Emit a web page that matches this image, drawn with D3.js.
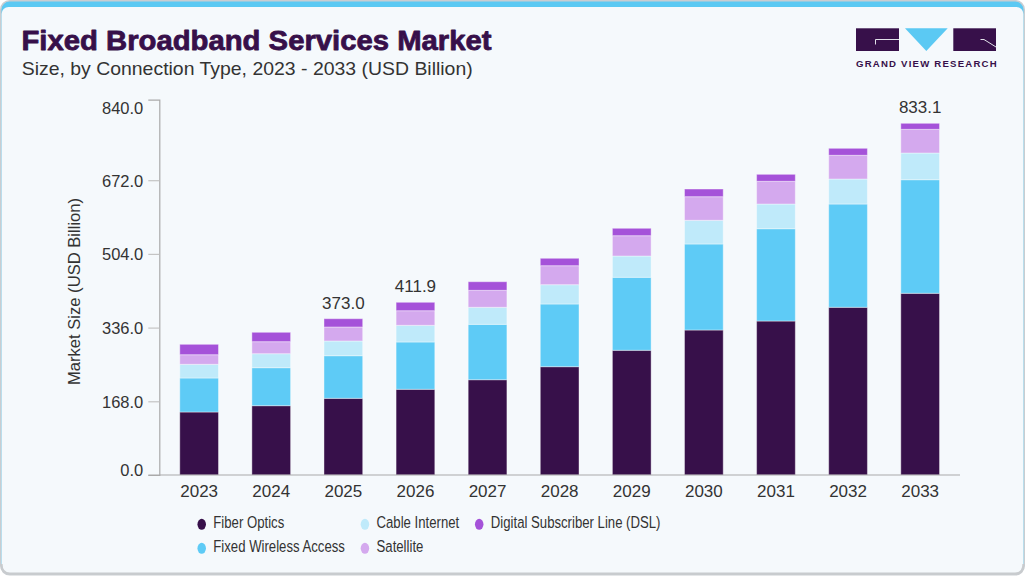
<!DOCTYPE html>
<html>
<head>
<meta charset="utf-8">
<script src="https://cdn.jsdelivr.net/npm/d3@7/dist/d3.min.js"></script>
<style>
  html, body { margin: 0; padding: 0; background: #ffffff; }
  svg { display: block; }
  text { font-family: "Liberation Sans", Arial, sans-serif; }
</style>
</head>
<body>
<svg id="chart" width="1025" height="576"></svg>
<script>
// ---- data ----
const years = ["2023","2024","2025","2026","2027","2028","2029","2030","2031","2032","2033"];
const seriesNames = ["Fiber Optics","Fixed Wireless Access","Cable Internet","Satellite","Digital Subscriber Line (DSL)"];
const fiberOptics         = [143.6, 158.0, 174.8, 195.4, 217.2, 246.9, 284.3, 330.5, 351.0, 382.3, 414.2];
const fixedWirelessAccess = [77.5, 86.6, 97.1, 107.8, 126.3, 142.9, 166.4, 196.1, 210.4, 235.4, 258.9];
const cableInternet       = [31.2, 31.9, 33.6, 38.0, 38.8, 44.0, 48.5, 54.0, 56.3, 57.0, 60.9];
const satellite           = [21.9, 27.4, 31.9, 33.3, 38.7, 43.3, 46.3, 53.8, 51.8, 54.1, 54.0];
const dsl                 = [23.7, 21.4, 18.9, 19.2, 19.6, 16.9, 16.9, 17.5, 15.9, 15.9, 13.7];
const labelYears  = ["2025","2026","2033"];
const labelValues = [373.0, 411.9, 833.1];
const yTicks = [0, 168, 336, 504, 672, 840];
const yMax = 855.5;

const colors = ["#37104a", "#5ecbf6", "#bfeafa", "#d4a9ee", "#a552d9"];
const seriesValues = [fiberOptics, fixedWirelessAccess, cableInternet, satellite, dsl];

const rows = years.map((yr, i) => {
  const o = { year: yr };
  seriesNames.forEach((s, k) => o[s] = seriesValues[k][i]);
  return o;
});

const svg = d3.select("#chart");
const W = 1025, H = 576;

// ---- card ----
svg.append("rect").attr("x", 0.75).attr("y", 0.75).attr("width", W - 1.5).attr("height", H - 2)
  .attr("rx", 9).attr("fill", "#5bc9f3").attr("stroke", "#c9cdd1").attr("stroke-width", 1.5);
svg.append("rect").attr("x", 1.6).attr("y", 7).attr("width", W - 3.2).attr("height", H - 9.5)
  .attr("rx", 7).attr("fill", "#f5f9fc");
svg.append("path").attr("d", `M1.6,${H-12} Q1.6,${H-2.5} 10,${H-2.5} H${W-10} Q${W-1.6},${H-2.5} ${W-1.6},${H-12}`)
  .attr("fill", "none").attr("stroke", "#c8cbce").attr("stroke-width", 2);

// ---- title ----
const title = svg.append("text").attr("x", 21.5).attr("y", 50)
  .attr("font-size", 28).attr("font-weight", 700).attr("fill", "#37104a")
  .attr("stroke", "#37104a").attr("stroke-width", 0.8).attr("stroke-linejoin", "round")
  .text("Fixed Broadband Services Market");
title.attr("textLength", 470).attr("lengthAdjust", "spacingAndGlyphs");
const sub = svg.append("text").attr("x", 21.7).attr("y", 75)
  .attr("font-size", 19).attr("fill", "#333333")
  .text("Size, by Connection Type, 2023 - 2033 (USD Billion)");
sub.attr("textLength", 451).attr("lengthAdjust", "spacingAndGlyphs");

// ---- logo ----
const logo = svg.append("g");
logo.append("rect").attr("x", 856).attr("y", 28.3).attr("width", 43).attr("height", 22.7).attr("fill", "#37104a");
logo.append("path").attr("d", "M875.5,44.5 V39.5 H899").attr("fill", "none").attr("stroke", "#f5f9fc").attr("stroke-width", 0.9);
logo.append("path").attr("d", "M905,28.3 H947.7 L926.3,51 Z").attr("fill", "#5bc9f3");
logo.append("rect").attr("x", 953.3).attr("y", 28.3).attr("width", 42.7).attr("height", 22.7).attr("fill", "#37104a");
logo.append("path").attr("d", "M980.5,39.5 H984 L996,47").attr("fill", "none").attr("stroke", "#f5f9fc").attr("stroke-width", 0.9);
logo.append("text").attr("x", 856).attr("y", 67.3).attr("font-size", 9.6).attr("font-weight", 700)
  .attr("fill", "#37104a").attr("textLength", 140.7).attr("lengthAdjust", "spacing")
  .text("GRAND VIEW RESEARCH");

// ---- scales ----
const x = d3.scaleBand().domain(years).range([159.3, 960]).paddingInner(0.463).paddingOuter(0.284);
const y = d3.scaleLinear().domain([0, yMax]).range([475, 99.7]);

// ---- y axis ----
const yAxis = d3.axisLeft(y).tickValues(yTicks).tickSize(11).tickSizeOuter(11).tickPadding(5)
  .tickFormat(d3.format(".1f"));
const gy = svg.append("g").attr("transform", "translate(159.3,0)").call(yAxis);
gy.select(".domain").attr("stroke", "#aaaaaa").attr("stroke-width", 1.2);
gy.selectAll(".tick line").attr("stroke", "#c4c4c4").attr("stroke-width", 1.2)
  .attr("display", d => (d === 0 || d === 840) ? "none" : null);
gy.selectAll(".tick text").attr("font-family", "'Liberation Sans', Arial, sans-serif")
  .attr("font-size", 16.5).attr("fill", "#333333")
  .attr("dy", d => d === 0 ? "0.0em" : (d === 840 ? "0.42em" : "0.36em"));

// y title
svg.append("text").attr("transform", "translate(80,291.5) rotate(-90)")
  .attr("text-anchor", "middle").attr("font-size", 16.6).attr("fill", "#333333")
  .text("Market Size (USD Billion)");

// ---- bars ----
const stack = d3.stack().keys(seriesNames)(rows);
const gBars = svg.append("g");
stack.forEach((layer, k) => {
  gBars.selectAll(null).data(layer).enter().append("rect")
    .attr("x", d => x(d.data.year))
    .attr("width", x.bandwidth())
    .attr("y", d => y(d[1]))
    .attr("height", d => y(d[0]) - y(d[1]))
    .attr("fill", colors[k])
    .attr("stroke", "#ffffff").attr("stroke-opacity", 0.4).attr("stroke-width", 1);
});

// ---- x axis ----
svg.append("line").attr("x1", 148.3).attr("x2", 960).attr("y1", 475).attr("y2", 475)
  .attr("stroke", "#aaaaaa").attr("stroke-width", 1.2);
const xAxis = d3.axisBottom(x).tickSize(0).tickPadding(0);
const gx = svg.append("g").attr("transform", "translate(0,475)").call(xAxis);
gx.select(".domain").remove();
gx.selectAll(".tick text").attr("font-family", "'Liberation Sans', Arial, sans-serif")
  .attr("font-size", 17).attr("fill", "#333333").attr("dy", 22).attr("y", 0);

// ---- value labels ----
const topOf = {};
stack[stack.length - 1].forEach(d => topOf[d.data.year] = d[1]);
labelYears.forEach((yr, i) => {
  svg.append("text").attr("x", x(yr) + x.bandwidth() / 2).attr("y", y(topOf[yr]) - 10)
    .attr("text-anchor", "middle").attr("font-size", 17).attr("fill", "#333333")
    .text(d3.format(".1f")(labelValues[i]));
});

// ---- legend ----
const sx = 0.775;
const leg = svg.append("g").attr("transform", `translate(201.7,0) scale(${sx},1)`);
const rowsY = [528.3, 552.3];
let colX = 0;
const nCols = Math.ceil(seriesNames.length / 2);
for (let c = 0; c < nCols; c++) {
  let maxW = 0;
  for (let r = 0; r < 2; r++) {
    const i = c * 2 + r;
    if (i >= seriesNames.length) continue;
    leg.append("circle").attr("cx", colX).attr("cy", rowsY[r] - 4).attr("r", 5.5).attr("fill", colors[i]);
    const t = leg.append("text").attr("x", colX + 15).attr("y", rowsY[r])
      .attr("font-size", 17).attr("fill", "#333333").text(seriesNames[i]);
    maxW = Math.max(maxW, t.node().getComputedTextLength());
  }
  colX = colX + 15 + maxW + 25.8;
}
</script>
</body>
</html>
